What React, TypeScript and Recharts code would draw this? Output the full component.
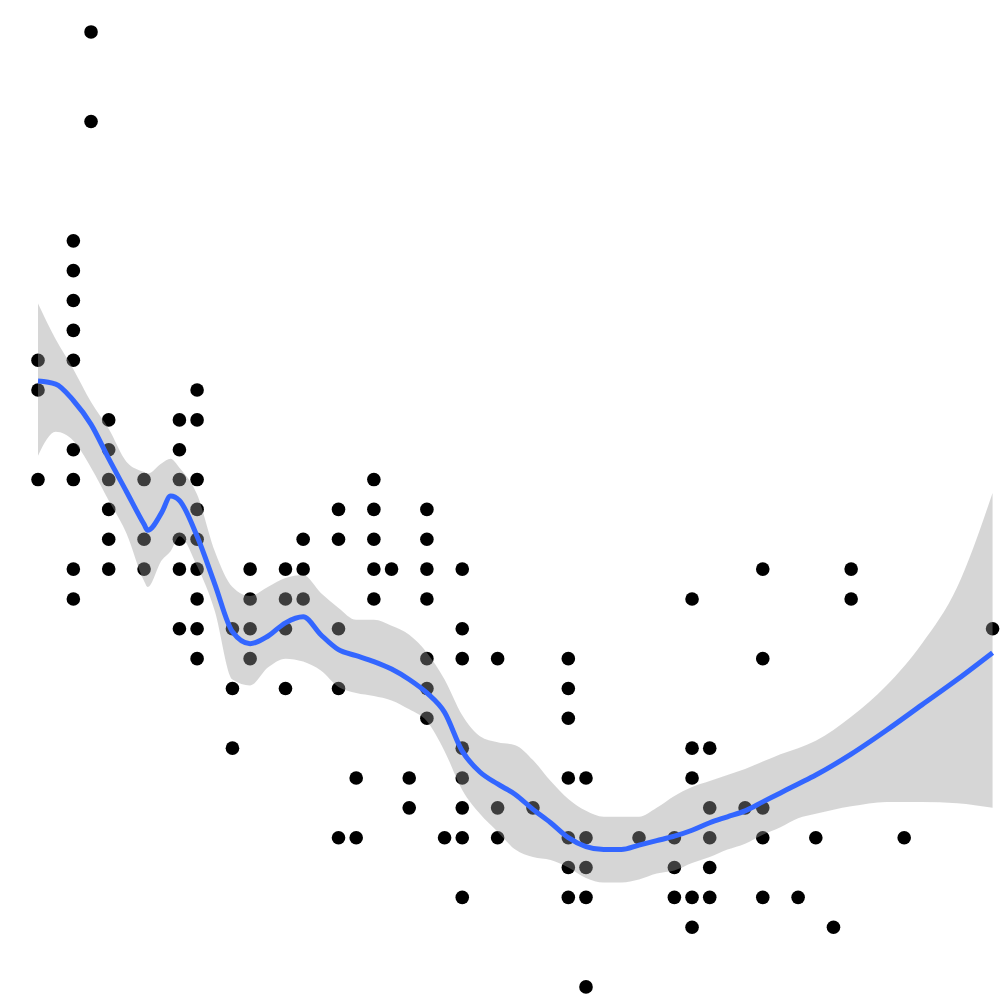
import { ComposedChart, Scatter, Area, Line, XAxis, YAxis } from 'recharts';

// engine displacement values of the observed points, grouped by column
const pointDispl = [
  1.6, 1.6, 1.6,
  1.8, 1.8, 1.8, 1.8, 1.8, 1.8, 1.8, 1.8, 1.8,
  1.9, 1.9,
  2.0, 2.0, 2.0, 2.0, 2.0, 2.0,
  2.2, 2.2, 2.2,
  2.4, 2.4, 2.4, 2.4, 2.4, 2.4,
  2.5, 2.5, 2.5, 2.5, 2.5, 2.5, 2.5, 2.5, 2.5,
  2.7, 2.7, 2.7,
  2.8, 2.8, 2.8, 2.8,
  3.0, 3.0, 3.0, 3.0,
  3.1, 3.1, 3.1,
  3.3, 3.3, 3.3, 3.3, 3.3,
  3.4, 3.4,
  3.5, 3.5, 3.5, 3.5, 3.5,
  3.6,
  3.7, 3.7,
  3.8, 3.8, 3.8, 3.8, 3.8, 3.8, 3.8,
  3.9,
  4.0, 4.0, 4.0, 4.0, 4.0, 4.0, 4.0, 4.0,
  4.2, 4.2, 4.2,
  4.4,
  4.6, 4.6, 4.6, 4.6, 4.6, 4.6, 4.6,
  4.7, 4.7, 4.7, 4.7, 4.7,
  5.0,
  5.2, 5.2, 5.2,
  5.3, 5.3, 5.3, 5.3, 5.3,
  5.4, 5.4, 5.4, 5.4, 5.4,
  5.6,
  5.7, 5.7, 5.7, 5.7, 5.7,
  5.9,
  6.0,
  6.1,
  6.2, 6.2,
  6.5,
  7.0,
];

const pointHwy = [
  33, 32, 29,
  37, 36, 35, 34, 33, 30, 29, 26, 25,
  44, 41,
  31, 30, 29, 28, 27, 26,
  29, 27, 26,
  31, 30, 29, 27, 26, 24,
  32, 31, 29, 28, 27, 26, 25, 24, 23,
  24, 22, 20,
  26, 25, 24, 23,
  26, 25, 24, 22,
  27, 26, 25,
  28, 27, 24, 22, 17,
  19, 17,
  29, 28, 27, 26, 25,
  26,
  19, 18,
  28, 27, 26, 25, 23, 22, 21,
  17,
  26, 24, 23, 20, 19, 18, 17, 15,
  23, 18, 17,
  18,
  23, 22, 21, 19, 17, 16, 15,
  19, 17, 16, 15, 12,
  17,
  17, 16, 15,
  25, 20, 19, 15, 14,
  20, 18, 17, 16, 15,
  18,
  26, 23, 18, 17, 15,
  15,
  17,
  14,
  26, 25,
  17,
  24,
];

// loess fit and its confidence band
const smoothDispl = [
  1.6, 1.7, 1.8, 1.9, 2.0, 2.1, 2.2, 2.22, 2.3, 2.35, 2.4, 2.5, 2.6, 2.7, 2.8, 2.9,
  3.0, 3.1, 3.2, 3.3, 3.4, 3.5, 3.6, 3.7, 3.8, 3.9, 4.0, 4.1, 4.2, 4.3, 4.4,
  4.5, 4.6, 4.7, 4.8, 4.9, 5.0, 5.1, 5.2, 5.3, 5.4, 5.5, 5.6, 5.7, 5.8, 5.9,
  6.0, 6.2, 6.4, 6.6, 6.8, 7.0,
];
const smoothFit = [
  32.3, 32.2, 31.65, 30.85, 29.7, 28.6, 27.5, 27.3, 27.9, 28.45, 28.3, 27.1, 25.5, 23.9, 23.5, 23.75,
  24.2, 24.4, 23.8, 23.3, 23.1, 22.9, 22.65, 22.3, 21.85, 21.2, 19.9, 19.2, 18.8, 18.45, 17.95,
  17.5, 17.0, 16.7, 16.6, 16.6, 16.75, 16.9, 17.05, 17.25, 17.5, 17.7, 17.9, 18.2, 18.5, 18.8,
  19.1, 19.8, 20.6, 21.45, 22.3, 23.2,
];
const smoothUpper = [
  34.9, 33.7, 32.7, 31.6, 30.7, 29.6, 29.25, 29.2, 29.55, 29.7, 29.4, 28.5, 26.6, 25.4, 25.1, 25.4,
  25.7, 25.8, 25.2, 24.7, 24.3, 24.3, 24.1, 23.8, 23.2, 22.3, 21.1, 20.4, 20.2, 20.1, 19.6,
  18.9, 18.3, 17.9, 17.7, 17.7, 17.7, 18.0, 18.4, 18.7, 18.9, 19.1, 19.3, 19.55, 19.8, 20.0,
  20.25, 21.05, 22.1, 23.5, 25.4, 28.55,
];
const smoothLower = [
  29.8, 30.6, 30.3, 29.4, 28.3, 27.2, 25.6, 25.4, 26.3, 26.6, 27.1, 26.1, 24.6, 22.3, 22.1, 22.7,
  23.0, 22.9, 22.6, 22.05, 21.85, 21.75, 21.6, 21.3, 20.9, 19.9, 18.6, 17.8, 17.2, 16.6, 16.35,
  16.25, 16.0, 15.65, 15.5, 15.5, 15.6, 15.8, 15.9, 16.15, 16.35, 16.6, 16.8, 17.1, 17.35, 17.65,
  17.8, 18.05, 18.2, 18.2, 18.15, 18.0,
];

const points = pointDispl.map((d, i) => ({ displ: d, hwy: pointHwy[i] }));
const smooth = smoothDispl.map((d, i) => ({
  displ: d,
  fit: smoothFit[i],
  band: [smoothLower[i], smoothUpper[i]],
}));

const Dot = (props: any) => <circle cx={props.cx} cy={props.cy} r={6.8} fill="#000" />;

export default function App() {
  return (
    <div style={{ position: 'absolute', left: 0, top: 0, width: 1006, height: 1006, background: '#fff' }}>
      <ComposedChart width={1006} height={1006} data={smooth} margin={{ top: 0, right: 0, bottom: 0, left: 0 }}>
        <XAxis type="number" dataKey="displ" domain={[1.385, 7.076]} hide allowDataOverflow />
        <YAxis type="number" domain={[11.36, 45.07]} hide allowDataOverflow />
        {/* points sit under the band, like ggplot draws them */}
        <Scatter data={points} dataKey="hwy" shape={Dot} zIndex={50} isAnimationActive={false} />
        <Area
          type="monotone"
          dataKey="band"
          stroke="none"
          fill="#999999"
          fillOpacity={0.4}
          dot={false}
          activeDot={false}
          zIndex={100}
          isAnimationActive={false}
        />
        <Line
          type="monotone"
          dataKey="fit"
          stroke="#3366FF"
          strokeWidth={5}
          dot={false}
          activeDot={false}
          zIndex={400}
          isAnimationActive={false}
        />
      </ComposedChart>
    </div>
  );
}
